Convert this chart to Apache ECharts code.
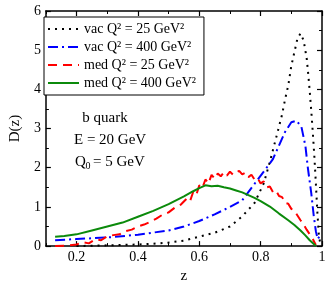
<!DOCTYPE html>
<html><head><meta charset="utf-8">
<script src="https://cdn.jsdelivr.net/npm/echarts@6/dist/echarts.min.js"></script>
<style>html,body{margin:0;padding:0;background:#fff}#c{width:332px;height:289px}</style>
</head><body><div id="c"></div>
<script>
const seriesNames = ['vac Q² = 25 GeV²', 'vac Q² = 400 GeV²', 'med Q² = 25 GeV²', 'med Q² = 400 GeV²'];
const xMajorTicks = [0.2, 0.4, 0.6, 0.8, 1];

const vac25Z = [0.2,0.25,0.3,0.35,0.4,0.45,0.5,0.55,0.6,0.65,0.7,0.74,0.78,0.81,0.83,0.85,0.87,0.88,0.89,0.9,0.91,0.92,0.93,0.94,0.95,0.955,0.96,0.965,0.97,0.975,0.98,0.985,0.99,0.995];
const vac25D = [0.0,0.01,0.02,0.03,0.04,0.06,0.09,0.14,0.24,0.34,0.5,0.76,1.1,1.6,2.15,2.75,3.36,3.76,4.1,4.6,4.95,5.3,5.43,5.25,4.8,4.4,3.95,3.45,2.9,2.3,1.6,0.85,0.25,0.05];

const vac400Z = [0.13,0.2,0.3,0.4,0.5,0.55,0.6,0.65,0.7,0.74,0.78,0.81,0.84,0.86,0.88,0.9,0.917,0.933,0.946,0.954,0.965,0.973,0.98,0.986,0.992,0.996];
const vac400D = [0.15,0.18,0.22,0.29,0.4,0.5,0.64,0.81,1.0,1.17,1.59,1.9,2.22,2.57,2.92,3.16,3.2,3.04,2.55,1.99,1.35,0.78,0.38,0.18,0.22,0.3];

const med25Z = [0.13,0.16,0.2,0.22,0.24,0.26,0.28,0.3,0.32,0.34,0.36,0.38,0.4,0.42,0.44,0.46,0.48,0.5,0.52,0.54,0.56,0.57,0.58,0.59,0.6,0.61,0.62,0.63,0.64,0.65,0.66,0.67,0.68,0.69,0.7,0.71,0.72,0.73,0.74,0.75,0.76,0.77,0.78,0.79,0.8,0.81,0.82,0.83,0.84,0.85,0.86,0.87,0.88,0.89,0.9,0.91,0.92,0.93,0.94,0.95,0.96,0.97,0.98];
const med25D = [0.0,0.01,0.04,0.1,0.07,0.17,0.15,0.25,0.28,0.3,0.38,0.42,0.5,0.55,0.62,0.7,0.8,0.86,0.98,1.06,1.22,1.15,1.38,1.3,1.55,1.48,1.7,1.6,1.82,1.72,1.85,1.78,1.88,1.8,1.9,1.82,1.88,1.92,1.83,1.87,1.76,1.82,1.7,1.74,1.6,1.65,1.5,1.52,1.38,1.42,1.28,1.25,1.1,1.08,0.95,0.9,0.78,0.66,0.55,0.42,0.3,0.18,0.03];

const med400Z = [0.13,0.16,0.2,0.25,0.3,0.35,0.4,0.45,0.5,0.55,0.58,0.6,0.62,0.64,0.66,0.68,0.7,0.72,0.74,0.76,0.78,0.8,0.83,0.86,0.89,0.91,0.93,0.945,0.96,0.975,0.98];
const med400D = [0.24,0.26,0.3,0.4,0.5,0.6,0.75,0.9,1.07,1.27,1.4,1.48,1.55,1.53,1.54,1.5,1.47,1.42,1.37,1.3,1.23,1.15,1.01,0.83,0.66,0.54,0.4,0.28,0.15,0.04,0.0];

const zip = (a, b) => a.map((v, i) => [v, b[i]]);
const FONT = '"Liberation Serif", "Times New Roman", serif';

const chart = echarts.init(document.getElementById('c'), null, {renderer: 'canvas'});

const axisLine = {show: true, lineStyle: {color: '#000', width: 1.5}};
const majX = (pos, labels) => ({
  type: 'value', min: 0.1, max: 1, position: pos, gridIndex: 0,
  axisLine: axisLine,
  axisTick: {show: true, inside: true, length: 5, customValues: xMajorTicks, lineStyle: {color: '#000', width: 1.2}},
  axisLabel: {show: labels, customValues: xMajorTicks, color: '#000', fontFamily: FONT, fontSize: 14, margin: 4},
  splitLine: {show: false},
  name: labels ? 'z' : '', nameLocation: 'middle', nameGap: 16,
  nameTextStyle: {color: '#000', fontFamily: FONT, fontSize: 15}
});
const minX = (pos) => ({
  type: 'value', min: 0.1, max: 1, interval: 0.1, position: pos, gridIndex: 0,
  axisLine: {show: false},
  axisTick: {show: true, inside: true, length: 3, lineStyle: {color: '#000', width: 1}},
  axisLabel: {show: false}, splitLine: {show: false}
});
const yAx = (pos, labels) => ({
  type: 'value', min: 0, max: 6, interval: 1, position: pos, gridIndex: 0,
  axisLine: axisLine,
  axisTick: {show: true, inside: true, length: 5, lineStyle: {color: '#000', width: 1.2}},
  minorTick: {show: true, splitNumber: 2, length: 3, lineStyle: {color: '#000', width: 1}},
  axisLabel: {show: labels, color: '#000', fontFamily: FONT, fontSize: 14, margin: 5},
  splitLine: {show: false}, minorSplitLine: {show: false},
  name: labels ? 'D(z)' : '', nameLocation: 'middle', nameGap: 20,
  nameTextStyle: {color: '#000', fontFamily: FONT, fontSize: 15}
});

const mk = (name, data, color, type) => ({
  name, type: 'line', data, xAxisIndex: 0, yAxisIndex: 0,
  symbol: 'none', smooth: false, animation: false,
  lineStyle: {color, width: 2, type},
  itemStyle: {color, opacity: 0}
});

chart.setOption({
  animation: false,
  backgroundColor: '#fff',
  grid: {left: 37, right: 10, top: 11, bottom: 30},
  xAxis: [majX('bottom', true), minX('bottom'), majX('top', false), minX('top')],
  yAxis: [yAx('left', true), yAx('right', false)],
  legend: {
    orient: 'vertical', left: 44, top: 17,
    itemWidth: 31, itemHeight: 14, itemGap: 4,
    padding: [5, 8, 5, 3],
    borderColor: '#000', borderWidth: 1, backgroundColor: '#fff',
    itemStyle: {opacity: 0},
    textStyle: {color: '#000', fontFamily: FONT, fontSize: 14},
    data: seriesNames
  },
  series: [
    mk(seriesNames[0], zip(vac25Z, vac25D), '#000000', [2, 5]),
    mk(seriesNames[1], zip(vac400Z, vac400D), '#0000ff', [10, 4, 2, 4]),
    mk(seriesNames[2], zip(med25Z, med25D), '#ff0000', [9, 6]),
    mk(seriesNames[3], zip(med400Z, med400D), '#0b8a0b', 'solid')
  ],
  graphic: [
    {type: 'text', style: {text: 'b quark', x: 105, y: 118, font: '15px ' + FONT, fill: '#000', textAlign: 'center', textVerticalAlign: 'middle'}},
    {type: 'text', style: {text: 'E = 20 GeV', x: 74, y: 140, font: '15px ' + FONT, fill: '#000', textAlign: 'left', textVerticalAlign: 'middle'}},
    {type: 'text', style: {text: 'Q', x: 75, y: 162, font: '15px ' + FONT, fill: '#000', textAlign: 'left', textVerticalAlign: 'middle'}},
    {type: 'text', style: {text: '0', x: 85.5, y: 166, font: '10px ' + FONT, fill: '#000', textAlign: 'left', textVerticalAlign: 'middle'}},
    {type: 'text', style: {text: '= 5 GeV', x: 93, y: 162, font: '15px ' + FONT, fill: '#000', textAlign: 'left', textVerticalAlign: 'middle'}}
  ]
});
</script>
</body></html>
